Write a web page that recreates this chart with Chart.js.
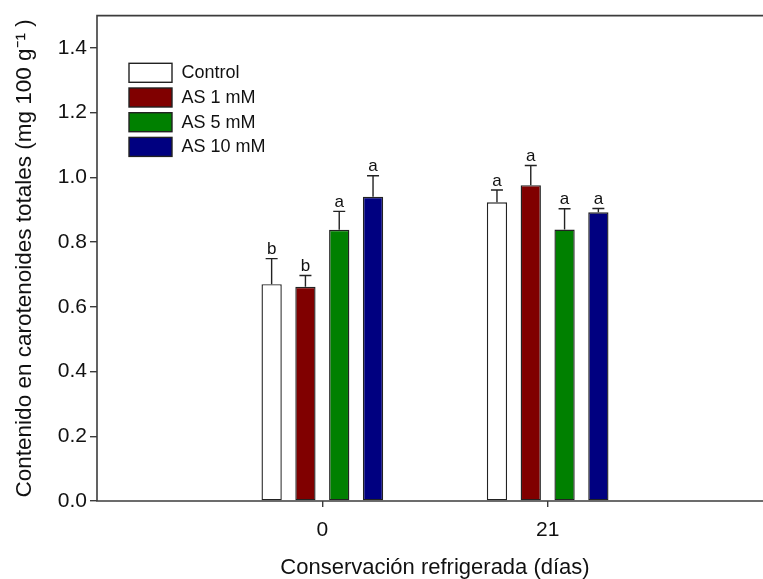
<!DOCTYPE html>
<html>
<head>
<meta charset="utf-8">
<script src="https://cdn.jsdelivr.net/npm/chart.js@4/dist/chart.umd.min.js"></script>
<style>
  html, body { margin: 0; padding: 0; background: #fff; overflow: hidden; width: 763px; height: 579px; }
  #wrap { position: relative; width: 784px; height: 579px; }
</style>
</head>
<body>
<div id="wrap"><canvas id="chart" width="784" height="579"></canvas></div>
<script>
// Storage days (empty slots pad the axis on both sides)
const days = ['', '0', '21', ''];
const seriesNames = ['Control', 'AS 1 mM', 'AS 5 mM', 'AS 10 mM'];
const seriesColors = ['#ffffff', '#800000', '#008000', '#000080'];

// Total carotenoids (mg 100 g-1)
const control = [null, 0.670, 0.923, null];
const as1     = [null, 0.662, 0.976, null];
const as5     = [null, 0.838, 0.839, null];
const as10    = [null, 0.940, 0.892, null];

// Standard errors
const controlErr = [null, 0.079, 0.038, null];
const as1Err     = [null, 0.035, 0.061, null];
const as5Err     = [null, 0.057, 0.064, null];
const as10Err    = [null, 0.065, 0.012, null];

// Significance letters
const controlLetters = [null, 'b', 'a', null];
const as1Letters     = [null, 'b', 'a', null];
const as5Letters     = [null, 'a', 'a', null];
const as10Letters    = [null, 'a', 'a', null];

const yTicks = [0.0, 0.2, 0.4, 0.6, 0.8, 1.0, 1.2, 1.4];

const FONT = '"Liberation Sans", Arial, sans-serif';
const INK = '#111';
const AXIS = '#3c3c3c';

const values = [control, as1, as5, as10];
const errors = [controlErr, as1Err, as5Err, as10Err];
const letters = [controlLetters, as1Letters, as5Letters, as10Letters];

const datasets = seriesNames.map((name, i) => ({
  label: name,
  data: values[i],
  errors: errors[i],
  letters: letters[i],
  backgroundColor: seriesColors[i],
  borderColor: '#222',
  borderWidth: 1.4,
  borderSkipped: false,
  categoryPercentage: 0.6,
  barPercentage: 0.6
}));

// Frame: left, top and bottom lines of the plot box
const framePlugin = {
  id: 'frame',
  afterDraw(chart) {
    const { ctx, chartArea: a } = chart;
    ctx.save();
    ctx.strokeStyle = AXIS;
    ctx.lineWidth = 1.6;
    ctx.beginPath();
    ctx.moveTo(a.right + 2, a.top);
    ctx.lineTo(a.left, a.top);
    ctx.lineTo(a.left, a.bottom);
    ctx.lineTo(a.right + 2, a.bottom);
    ctx.stroke();
    ctx.restore();
  }
};

// Error bars (upper whisker) with letters above
const errorBarPlugin = {
  id: 'errorBars',
  afterDatasetsDraw(chart) {
    const { ctx } = chart;
    const yScale = chart.scales.y;
    ctx.save();
    chart.data.datasets.forEach((ds, di) => {
      const meta = chart.getDatasetMeta(di);
      meta.data.forEach((bar, i) => {
        const v = ds.data[i];
        const e = ds.errors[i];
        if (v == null || e == null) return;
        const x = bar.x;
        const yTop = yScale.getPixelForValue(v);
        const yCap = yScale.getPixelForValue(v + e);
        ctx.strokeStyle = '#222';
        ctx.lineWidth = 1.4;
        ctx.beginPath();
        ctx.moveTo(x, yTop);
        ctx.lineTo(x, yCap);
        ctx.moveTo(x - 6, yCap);
        ctx.lineTo(x + 6, yCap);
        ctx.stroke();
        const l = ds.letters[i];
        if (l) {
          ctx.fillStyle = INK;
          ctx.font = '17px ' + FONT;
          ctx.textAlign = 'center';
          ctx.textBaseline = 'alphabetic';
          ctx.fillText(l, x, yCap - 4.5);
        }
      });
    });
    ctx.restore();
  }
};

// Legend inside the plot box
const legendPlugin = {
  id: 'boxLegend',
  afterDraw(chart) {
    const { ctx } = chart;
    ctx.save();
    chart.data.datasets.forEach((ds, i) => {
      const top = 63.3 + i * 24.7;
      ctx.fillStyle = ds.backgroundColor;
      ctx.fillRect(129, top, 43, 19);
      ctx.strokeStyle = '#222';
      ctx.lineWidth = 1.4;
      ctx.strokeRect(129, top, 43, 19);
      ctx.fillStyle = INK;
      ctx.font = '18px ' + FONT;
      ctx.textAlign = 'left';
      ctx.textBaseline = 'middle';
      ctx.fillText(ds.label, 181.5, top + 10);
    });
    ctx.restore();
  }
};

new Chart(document.getElementById('chart'), {
  type: 'bar',
  data: { labels: days, datasets },
  plugins: [errorBarPlugin, framePlugin, legendPlugin],
  options: {
    responsive: false,
    animation: false,
    devicePixelRatio: 1,
    layout: { padding: { top: 14, left: 0, right: 0, bottom: 0 } },
    plugins: {
      legend: { display: false },
      tooltip: { enabled: false }
    },
    scales: {
      x: {
        type: 'category',
        offset: false,
        border: { display: false },
        grid: {
          offset: false,
          drawOnChartArea: false,
          drawTicks: true,
          tickLength: 6,
          lineWidth: 1.4,
          color: (c) => (c.index === 1 || c.index === 2) ? AXIS : 'rgba(0,0,0,0)'
        },
        ticks: {
          autoSkip: false,
          maxRotation: 0,
          padding: 11,
          color: INK,
          font: { family: FONT, size: 21 }
        },
        title: {
          display: true,
          text: 'Conservación refrigerada (días)',
          color: INK,
          font: { family: FONT, size: 22, lineHeight: 1.0 },
          padding: { top: 0, bottom: 0 }
        },
        afterFit: (s) => { s.height = 78; }
      },
      y: {
        type: 'linear',
        min: 0,
        max: 1.5,
        border: { display: false },
        grid: {
          drawOnChartArea: false,
          drawTicks: true,
          tickLength: 7,
          lineWidth: 1.4,
          color: AXIS
        },
        ticks: {
          stepSize: 0.2,
          includeBounds: false,
          padding: 3,
          color: INK,
          font: { family: FONT, size: 21 },
          callback: (v) => v.toFixed(1)
        },
        afterBuildTicks: (s) => { s.ticks = yTicks.map(v => ({ value: v })); },
        title: {
          display: true,
          text: 'Contenido en carotenoides totales (mg 100 g\u207B\u00B9 )',
          color: INK,
          font: { family: FONT, size: 22.5, lineHeight: 1.2 },
          padding: { top: 11.5, bottom: 0 }
        },
        afterFit: (s) => { s.width = 97; }
      }
    }
  }
});
</script>
</body>
</html>
